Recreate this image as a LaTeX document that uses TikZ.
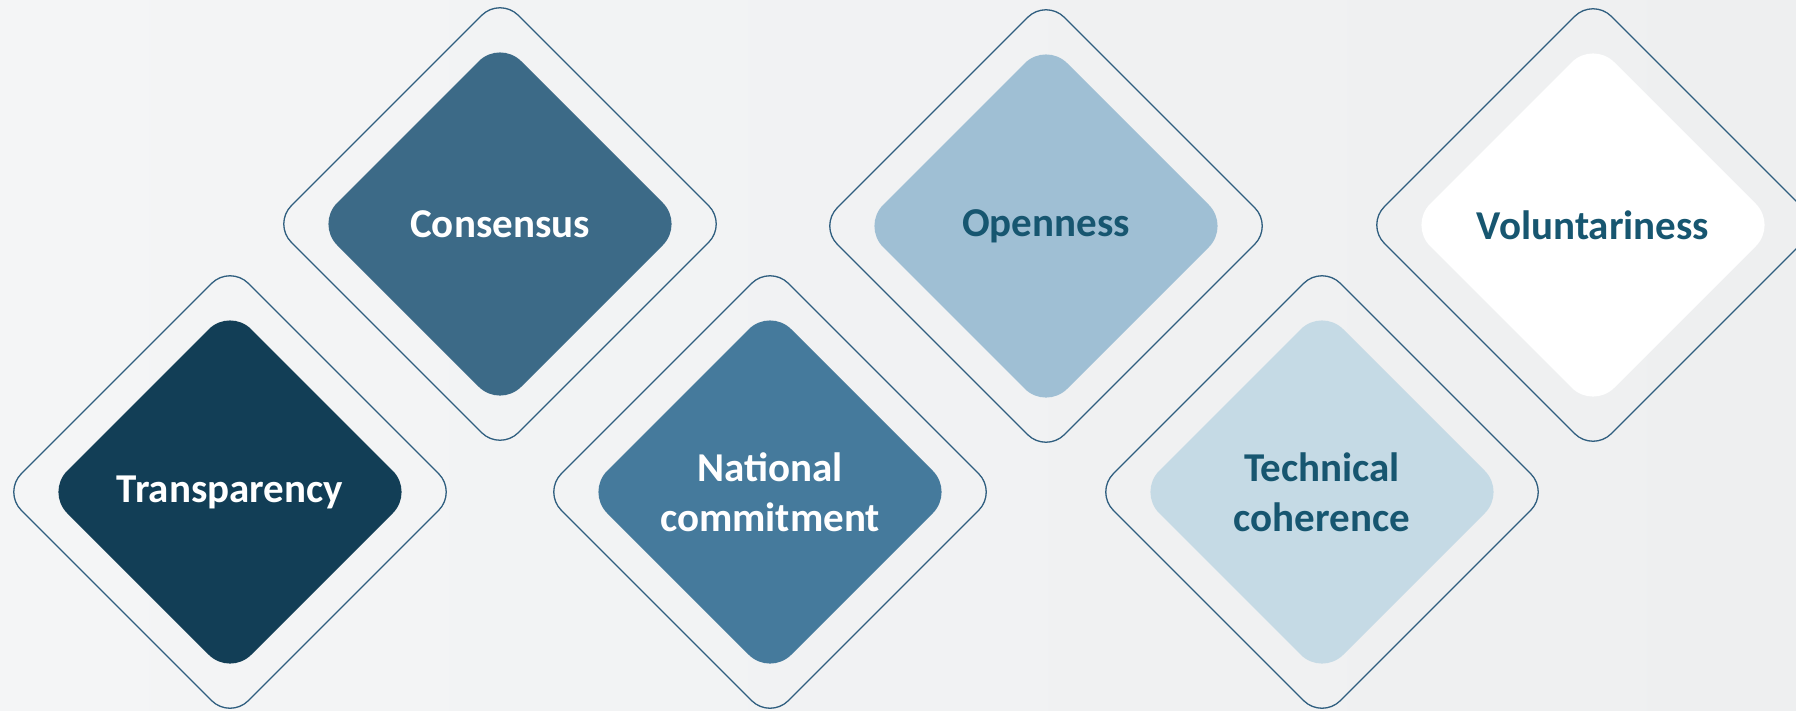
\documentclass[tikz,border=0pt]{standalone}
\usepackage{fontspec}
\setmainfont{Carlito}
\usetikzlibrary{calc}
\definecolor{bgl}{HTML}{F4F5F6}
\definecolor{bgr}{HTML}{EEEFF0}
\definecolor{linec}{HTML}{2F5E7F}
\definecolor{cTr}{HTML}{123E56}
\definecolor{cCo}{HTML}{3C6A87}
\definecolor{cNa}{HTML}{457A9C}
\definecolor{cOp}{HTML}{9FBFD4}
\definecolor{cTe}{HTML}{C5DAE5}
\definecolor{cVo}{HTML}{FFFFFF}
\definecolor{txtdark}{HTML}{175670}
\newcommand\rdiam[3]{%
  \path[#1] ([shift={(-#3/2,-#3/2)}]#2) -- ([shift={(0,-#3)}]#2) -- ([shift={(#3,0)}]#2)
    -- ([shift={(0,#3)}]#2) -- ([shift={(-#3,0)}]#2) -- ([shift={(-#3/2,-#3/2)}]#2);}
\tikzset{
  outerd/.style={draw=linec, line width=1.3pt, rounded corners=26pt},
  innerd/.style={fill=#1, rounded corners=30pt},
  lbl/.style={font=\bfseries\fontsize{41}{50}\selectfont, align=center, text=#1},
}
\begin{document}
\begin{tikzpicture}[x=1pt,y=-1pt]
\useasboundingbox (0,0) rectangle (1796,710);
\clip (0,0) rectangle (1796,710);
\shade[left color=bgl, right color=bgr] (0,0) rectangle (1796,710);
\coordinate (pTr) at (230,492);
\coordinate (pCo) at (500,224);
\coordinate (pNa) at (770,492);
\coordinate (pOp) at (1046,226);
\coordinate (pTe) at (1322,492);
\coordinate (pVo) at (1593,225);
\foreach \p/\c in {pTr/cTr,pCo/cCo,pNa/cNa,pOp/cOp,pTe/cTe,pVo/cVo}{
  \rdiam{outerd}{\p}{227}
  \rdiam{innerd=\c}{\p}{184}
}
\node[lbl=white] (tTr) at (pTr) {Transparency};
\node[lbl=white] (tCo) at (pCo) {Consensus};
\node[lbl=white] (tNa) at (pNa) {National\\commitment};
\node[lbl=txtdark] (tOp) at (pOp) {Openness};
\node[lbl=txtdark] (tTe) at (pTe) {Technical\\coherence};
\node[lbl=txtdark] (tVo) at (pVo) {Voluntariness};
\end{tikzpicture}
\end{document}
